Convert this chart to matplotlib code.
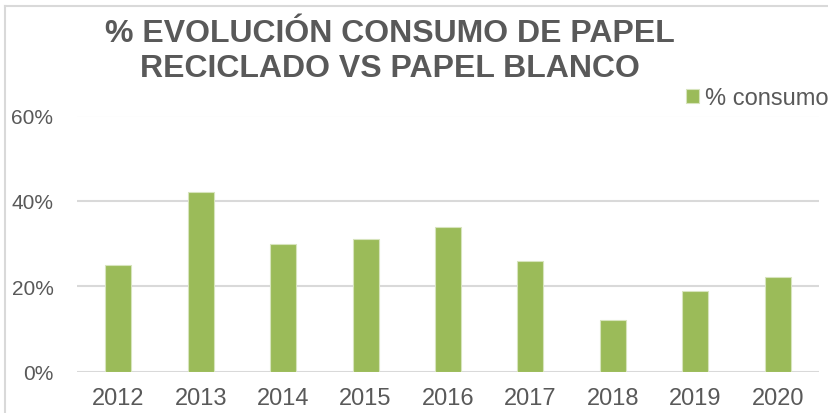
import matplotlib
matplotlib.use("Agg")
import matplotlib.pyplot as plt
from matplotlib.lines import Line2D
from matplotlib.ticker import FuncFormatter, MultipleLocator

years = ["2012", "2013", "2014", "2015", "2016", "2017", "2018", "2019", "2020"]
consumo = [0.25, 0.42, 0.30, 0.31, 0.34, 0.26, 0.12, 0.19, 0.222]
series_name = "% consumo"
title = "% EVOLUCIÓN CONSUMO DE PAPEL\nRECICLADO VS PAPEL BLANCO"

plt.rcParams['font.family'] = ['Liberation Sans', 'DejaVu Sans']
txt = "#595959"
green = "#9bbb59"

fig = plt.figure(figsize=(8.29, 4.14), dpi=100)
ax = fig.add_axes([77/829, 1 - 372.7/414, (819 - 77)/829, (372.7 - 116.5)/414])

x = range(len(years))
ax.bar(x, consumo, width=0.315, color=green, edgecolor="#d7e4bd", linewidth=0.8, zorder=3, label=series_name)
ax.set_xlim(-0.5, len(years) - 0.5)
ax.set_ylim(0, 0.6)
ax.yaxis.set_major_locator(MultipleLocator(0.2))
ax.yaxis.set_major_formatter(FuncFormatter(lambda v, p: f"{v*100:.0f}%"))
ax.set_xticks(list(x))
ax.set_xticklabels(years)
ax.grid(axis="y", color="#d9d9d9", linewidth=1.5, zorder=0)
for s in ax.spines.values():
    s.set_visible(False)
ax.tick_params(axis="both", length=0, colors=txt)
ax.tick_params(axis="y", pad=17, labelsize=15)
ax.tick_params(axis="x", pad=11, labelsize=17)

fig.text(390/829, 1 - 51.5/414, title, ha="center", va="center", fontsize=23,
         fontweight="bold", color=txt, linespacing=1.26)

ax.legend(loc="center left", bbox_to_anchor=(686/829, 1 - 99.5/414), bbox_transform=fig.transFigure,
          frameon=False, fontsize=17, labelcolor=txt, handlelength=0.55, handleheight=0.55,
          handletextpad=0.25, borderaxespad=0, borderpad=0)

fig.add_artist(Line2D([5/829, 5/829], [0, 1 - 7/414], transform=fig.transFigure, color="#d9d9d9", lw=1.5))
fig.add_artist(Line2D([5/829, 1], [1 - 7/414, 1 - 7/414], transform=fig.transFigure, color="#d9d9d9", lw=1.5))

fig.savefig("out.png", dpi=100)
